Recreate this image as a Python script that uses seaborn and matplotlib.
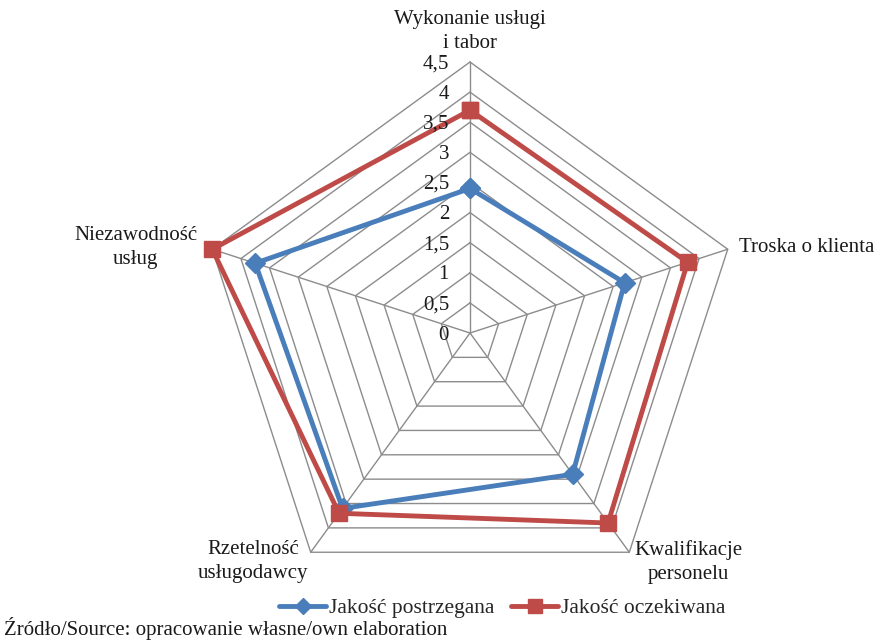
import numpy as np
import pandas as pd
import matplotlib
matplotlib.use("Agg")
import matplotlib.pyplot as plt
import seaborn as sns

# ---- data ----
categories = ["Wykonanie usługi\ni tabor", "Troska o klienta", "Kwalifikacje\npersonelu",
              "Rzetelność\nusługodawcy", "Niezawodność\nusług"]
perceived = [2.4, 2.7, 2.9, 3.6, 3.75]
expected = [3.7, 3.8, 3.9, 3.7, 4.5]
series_names = ["Jakość postrzegana", "Jakość oczekiwana"]
tick_values = [0, 0.5, 1, 1.5, 2, 2.5, 3, 3.5, 4, 4.5]
tick_labels = ["0", "0,5", "1", "1,5", "2", "2,5", "3", "3,5", "4", "4,5"]
source_text = "Źródło/Source: opracowanie własne/own elaboration"

# ---- style ----
sns.set_style("white")
plt.rcParams["font.family"] = ["Liberation Serif", "DejaVu Serif"]
FS = 15
FS_LEG = 15.5
TXT = "#1a1a1a"
GRID = "#8c8c8c"
colors = {"Jakość postrzegana": "#4A7EBB", "Jakość oczekiwana": "#BE4B48"}
markers = {"Jakość postrzegana": "D", "Jakość oczekiwana": "s"}

fig = plt.figure(figsize=(8.75, 6.42), dpi=100)
ax = fig.add_axes([199 / 875, 38 / 642, 542 / 875, 542 / 642], projection="polar")
ax.set_theta_offset(np.pi / 2)
ax.set_theta_direction(-1)
ax.set_ylim(0, 4.5)
ax.grid(False)
ax.set_xticks([])
ax.set_yticks([])
ax.spines["polar"].set_visible(False)
ax.patch.set_alpha(0)

n = len(categories)
theta = [2 * np.pi * i / n for i in range(n)]
theta_closed = theta + [2 * np.pi]

# polygon grid
for v in tick_values[1:]:
    ax.plot(theta_closed, [v] * (n + 1), color=GRID, lw=1.0, zorder=1, clip_on=False)
for t in theta:
    ax.plot([t, t], [0, tick_values[-1]], color=GRID, lw=1.0, zorder=1, clip_on=False)

# data
rows = []
for name, vals in zip(series_names, [perceived, expected]):
    for t, v in zip(theta_closed, vals + [vals[0]]):
        rows.append({"theta": t, "value": v, "series": name})
df = pd.DataFrame(rows)

n_before = len(ax.lines)
sns.lineplot(data=df, x="theta", y="value", hue="series", style="series",
             palette=colors, markers=markers, dashes=False, sort=False,
             estimator=None, linewidth=3.5, markersize=10, ax=ax, legend=False)
data_lines = ax.lines[n_before:]
for ln in data_lines:
    ln.set_markeredgecolor(ln.get_color())
    ln.set_markeredgewidth(1)
    ln.set_zorder(3)
    ln.set_clip_on(False)
    if ln.get_marker() == "s":
        ln.set_markersize(11)
ax.set_xlabel("")
ax.set_ylabel("")
ax.set_ylim(0, 4.5)

# radial tick labels
for v, lab in zip(tick_values, tick_labels):
    ax.annotate(lab, xy=(0, v), xytext=(-21, -2), textcoords="offset pixels",
                ha="right", va="center", fontsize=FS, color=TXT)

# category labels
offsets = [((0, 9), "center", "bottom"),
           ((11, 2), "left", "center"),
           ((5, 12), "left", "top"),
           ((-2, 12), "right", "top"),
           ((-15, 2), "right", "center")]
for t, lab, (off, ha, va) in zip(theta, categories, offsets):
    ax.annotate(lab, xy=(t, tick_values[-1]), xytext=off, textcoords="offset pixels",
                ha=ha, va=va, multialignment="center", fontsize=FS, color=TXT,
                linespacing=1.35)

# legend
handles = []
for name in series_names:
    handles.append(plt.Line2D([], [], color=colors[name], lw=3.5, marker=markers[name],
                              markersize=8 if markers[name] == "D" else 10,
                              markeredgecolor=colors[name]))
fig.legend(handles, series_names, loc="center", bbox_to_anchor=(502 / 875, 1 - 608 / 642),
           ncol=2, frameon=False, fontsize=FS_LEG, handlelength=2.2, handletextpad=0.1,
           columnspacing=0.8, borderaxespad=0, borderpad=0)

fig.text(4 / 875, 1 - 629 / 642, source_text, ha="left", va="center", fontsize=FS,
         color=TXT)

fig.savefig("out.png", dpi=100)
